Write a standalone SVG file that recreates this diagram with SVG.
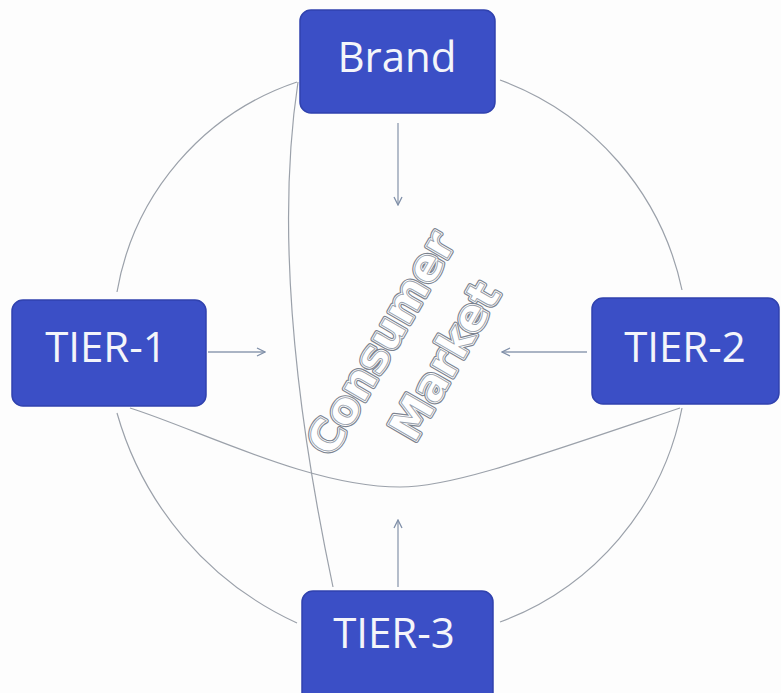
<svg xmlns="http://www.w3.org/2000/svg" width="781" height="693" viewBox="0 0 781 693">
  <defs>
    <marker id="arr" viewBox="0 0 10 10" refX="9" refY="5" markerWidth="10" markerHeight="10" markerUnits="userSpaceOnUse" orient="auto">
      <path d="M1,1 L9,5 L1,9" fill="none" stroke="#7f8fa8" stroke-width="1.3"/>
    </marker>
  </defs>
  <style>
    .line { fill: none; stroke: #9ba1aa; stroke-width: 1.2; }
    .arrow { fill: none; stroke: #8e9bb0; stroke-width: 1.3; marker-end: url(#arr); }
    .box { fill: #3b4fc6; stroke: #3042ae; stroke-width: 1.5; }
    .lbl { font-family: "Open Sans", "Liberation Sans", sans-serif; font-size: 42px; fill: #f4f5fa; text-anchor: middle; }
    .cm { font-family: "DejaVu Sans", sans-serif; font-size: 44px; font-weight: bold; text-anchor: middle; stroke-linejoin: round; }
    .cm-back { fill: none; stroke: #7c838f; stroke-width: 5; }
    .cm-front { fill: #ffffff; stroke: #ffffff; stroke-width: 2.6; }
    .cm-core { fill: #ffffff; stroke: #98a0ab; stroke-width: 0.9; }
  </style>
  <rect width="781" height="693" fill="#fdfdfd"/>

  <g id="connectors">
    <path class="line" d="M297,82 A270,270 0 0 0 117,292"/>
    <path class="line" d="M117,413 A330,330 0 0 0 297,623"/>
    <path class="line" d="M682,408 A287,287 0 0 1 500,622"/>
    <path class="line" d="M500,80 A287,287 0 0 1 682,290"/>
    <path class="line" d="M298,82 Q268,280 333,587"/>
    <path class="line" d="M130,408 C200,430 310,487 400,487 C450,487 520,462 680,408"/>
    <path class="arrow" d="M398,123 L398,205"/>
    <path class="arrow" d="M208,352 L265,352"/>
    <path class="arrow" d="M587,352 L502,352"/>
    <path class="arrow" d="M398,587 L398,520"/>
  </g>

  <g id="consumer-market" transform="translate(413,352) rotate(-60)">
    <text class="cm cm-back" x="-8" y="-17">Consumer</text>
    <text class="cm cm-back" x="8" y="47">Market</text>
    <text class="cm cm-front" x="-8" y="-17">Consumer</text>
    <text class="cm cm-front" x="8" y="47">Market</text>
    <text class="cm cm-core" x="-8" y="-17">Consumer</text>
    <text class="cm cm-core" x="8" y="47">Market</text>
  </g>

  <g id="brand">
    <rect class="box" x="300" y="10" width="195" height="103" rx="11"/>
    <text class="lbl" x="397" y="72">Brand</text>
  </g>
  <g id="tier1">
    <rect class="box" x="12" y="300" width="194" height="106" rx="11"/>
    <text class="lbl" x="106" y="362">TIER-1</text>
  </g>
  <g id="tier2">
    <rect class="box" x="592" y="298" width="187" height="106" rx="11"/>
    <text class="lbl" x="685" y="362">TIER-2</text>
  </g>
  <g id="tier3">
    <rect class="box" x="302" y="591" width="191" height="115" rx="11"/>
    <text class="lbl" x="394" y="648">TIER-3</text>
  </g>
</svg>
